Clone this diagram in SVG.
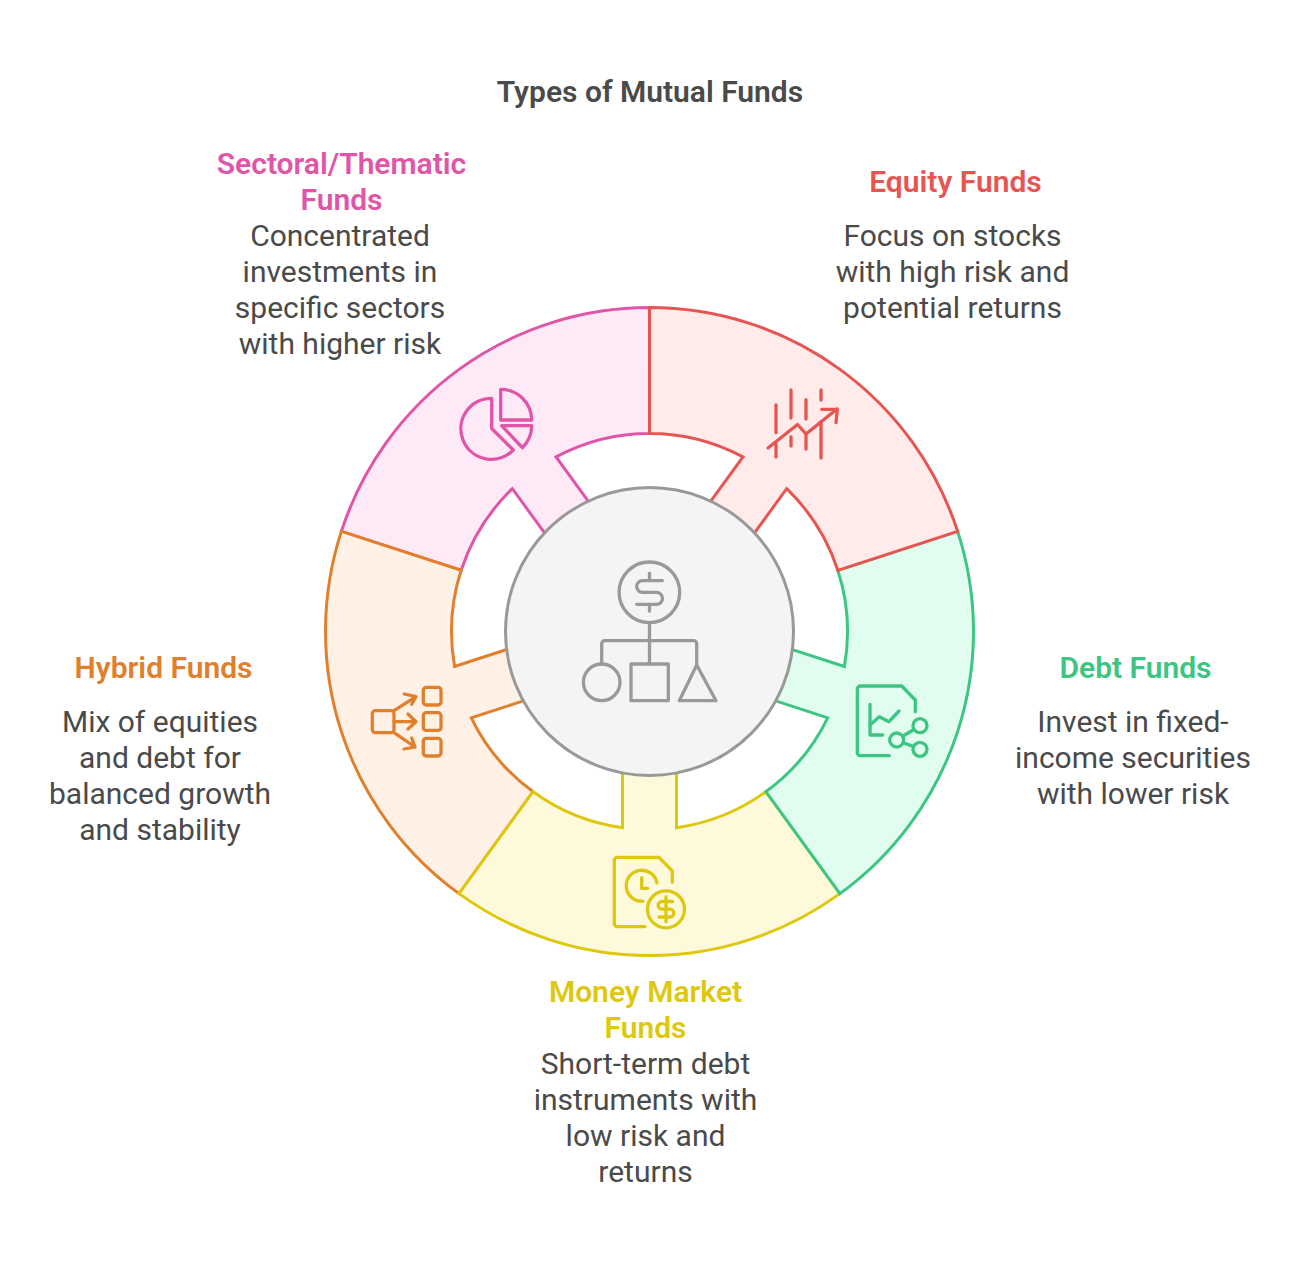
<svg xmlns="http://www.w3.org/2000/svg" xmlns:xlink="http://www.w3.org/1999/xlink" width="1299" height="1263" viewBox="0 0 1299 1263">
<style>
text{font-family:Roboto,"Liberation Sans",sans-serif;text-anchor:middle}
.t{font-size:30px;font-weight:600;fill:#4A4A4A}
.h{font-size:30px;font-weight:600}
.b{font-size:30px;font-weight:400;fill:#4A4A4A}
.seg{stroke-width:3;stroke-linejoin:miter}
.i{fill:none;stroke-width:3.3;stroke-linecap:round;stroke-linejoin:round}
.red{stroke:#E75553}.green{stroke:#3CC583}.yellow{stroke:#DEC80F}.orange{stroke:#E0802D}.pink{stroke:#E055A8}.grey{stroke:#999999}
.fred{fill:#E75553}.fgreen{fill:#3CC583}.fyellow{fill:#DEC80F}.forange{fill:#E0802D}.fpink{fill:#E055A8}
</style>
<defs>
<path id="segment" d="M0,-324A324,324 0 0 1 308.14,-100.12L188.31,-61.19A198,198 0 0 0 137.14,-142.82L104.96,-98.52L61.28,-130.26L93.46,-174.56A198,198 0 0 0 0,-198Z"/>
</defs>
<rect width="1299" height="1263" fill="#ffffff"/>
<text class="t" x="650" y="102">Types of Mutual Funds</text>

<g id="node-sectoral">
<use href="#segment" class="seg pink" fill="#FEEAF7" transform="translate(649.5 631.5) rotate(288)"/>
<g class="i pink">
<path d="M491.7,398.3A30.5,30.5 0 1 0 513.3,450L491.7,428.5Z"/>
<path d="M500.7,389.3V420H531.7A31,31 0 0 0 500.7,389.3Z"/>
<path d="M501.7,425.7H531.7A31,31 0 0 1 522.3,447.7Z"/>
</g>
<text class="h fpink" x="341.5" y="174">Sectoral/Thematic</text>
<text class="h fpink" x="341.5" y="210">Funds</text>
<text class="b" x="340" y="246">Concentrated</text>
<text class="b" x="340" y="282">investments in</text>
<text class="b" x="340" y="318">specific sectors</text>
<text class="b" x="340" y="354">with higher risk</text>
</g>

<g id="node-hybrid">
<use href="#segment" class="seg orange" fill="#FFF1E5" transform="translate(649.5 631.5) rotate(216)"/>
<g class="i orange">
<rect x="372.3" y="710.7" width="21.7" height="22" rx="3"/>
<rect x="423.3" y="687.3" width="17.7" height="17.7" rx="3"/>
<rect x="423.3" y="712.7" width="17.7" height="17.7" rx="3"/>
<rect x="423.3" y="738.3" width="17.7" height="17.7" rx="3"/>
<path d="M394,710.7L416,696.7M404.3,694L416,696.7L411.7,704.3"/>
<path d="M394,721.7H416M408,714L416,721.7L408,729"/>
<path d="M394,732.7L415,747M411.7,738L415,747L404,749"/>
</g>
<text class="h forange" x="163.5" y="678">Hybrid Funds</text>
<text class="b" x="160" y="732">Mix of equities</text>
<text class="b" x="160" y="768">and debt for</text>
<text class="b" x="160" y="804">balanced growth</text>
<text class="b" x="160" y="840">and stability</text>
</g>

<g id="node-money-market">
<use href="#segment" class="seg yellow" fill="#FEF9DB" transform="translate(649.5 631.5) rotate(144)"/>
<g class="i yellow">
<path d="M645,926.7H617.3A3,3 0 0 1 614.3,923.7V860.3A3,3 0 0 1 617.3,857.3H659L672.3,871V882.3"/>
<path d="M657,883A15.5,15.5 0 1 0 643,901.2"/>
<path d="M641.7,877.7V888.3H647.7"/>
<circle cx="666" cy="909.3" r="18.5"/>
<path d="M666,896.7V921.7M672.5,901.5H662A3.8,3.8 0 0 0 662,909.2H670A3.9,3.9 0 0 1 670,917H659"/>
</g>
<text class="h fyellow" x="645.5" y="1002">Money Market</text>
<text class="h fyellow" x="645.5" y="1038">Funds</text>
<text class="b" x="645.5" y="1074">Short-term debt</text>
<text class="b" x="645.5" y="1110">instruments with</text>
<text class="b" x="645.5" y="1146">low risk and</text>
<text class="b" x="645.5" y="1182">returns</text>
</g>

<g id="node-debt">
<use href="#segment" class="seg green" fill="#E1FDF0" transform="translate(649.5 631.5) rotate(72)"/>
<g class="i green">
<path d="M889.3,755.7H860.3A3,3 0 0 1 857.3,752.7V689A3,3 0 0 1 860.3,686H901.7L915.3,700V711.7"/>
<path d="M870,704.3V735H882.7"/>
<path d="M870,725L879.3,716.7L889,721.7L899,711"/>
<circle cx="920" cy="725.7" r="7"/>
<circle cx="896.7" cy="740" r="7"/>
<circle cx="920" cy="749.3" r="7"/>
<path d="M903,736L914,729.5M903.2,742.8L913.7,746.6"/>
</g>
<text class="h fgreen" x="1135.5" y="678">Debt Funds</text>
<text class="b" x="1133" y="732">Invest in fixed-</text>
<text class="b" x="1133" y="768">income securities</text>
<text class="b" x="1133" y="804">with lower risk</text>
</g>

<g id="node-equity">
<use href="#segment" class="seg red" fill="#FFECEA" transform="translate(649.5 631.5)"/>
<g class="i red">
<path d="M776,405V432.7M776,444V457M791,390V418M791,437V446M806,399.7V419M806,435V449M821,390V400M821,421.7V458"/>
<path d="M768,448L797.5,424.5L806,434L837,409"/>
<path d="M821.7,409.3H837.3L836,422.7"/>
</g>
<text class="h fred" x="955.5" y="192">Equity Funds</text>
<text class="b" x="952.5" y="246">Focus on stocks</text>
<text class="b" x="952.5" y="282">with high risk and</text>
<text class="b" x="952.5" y="318">potential returns</text>
</g>

<g id="node-center">
<circle cx="649.5" cy="631.5" r="144" fill="#F4F4F4" stroke="#999999" stroke-width="3"/>
<g class="i grey">
<circle cx="649.4" cy="592.3" r="30.3"/>
<path d="M649.5,573.3V579.3M649.5,605V611M662.3,580.7H642.5A5.8,5.8 0 0 0 642.5,592.3H656.5A6,6 0 0 1 656.5,604.3H636.7"/>
<path d="M649.5,622.5V664M601.7,664V643.7A3,3 0 0 1 604.7,640.7H693.7A3,3 0 0 1 696.7,643.7V665"/>
<circle cx="601.7" cy="682.3" r="18.3"/>
<rect x="631" y="664" width="37.3" height="36.7"/>
<path d="M696.7,665L716,700.7H679.3Z"/>
</g>
</g>
</svg>
